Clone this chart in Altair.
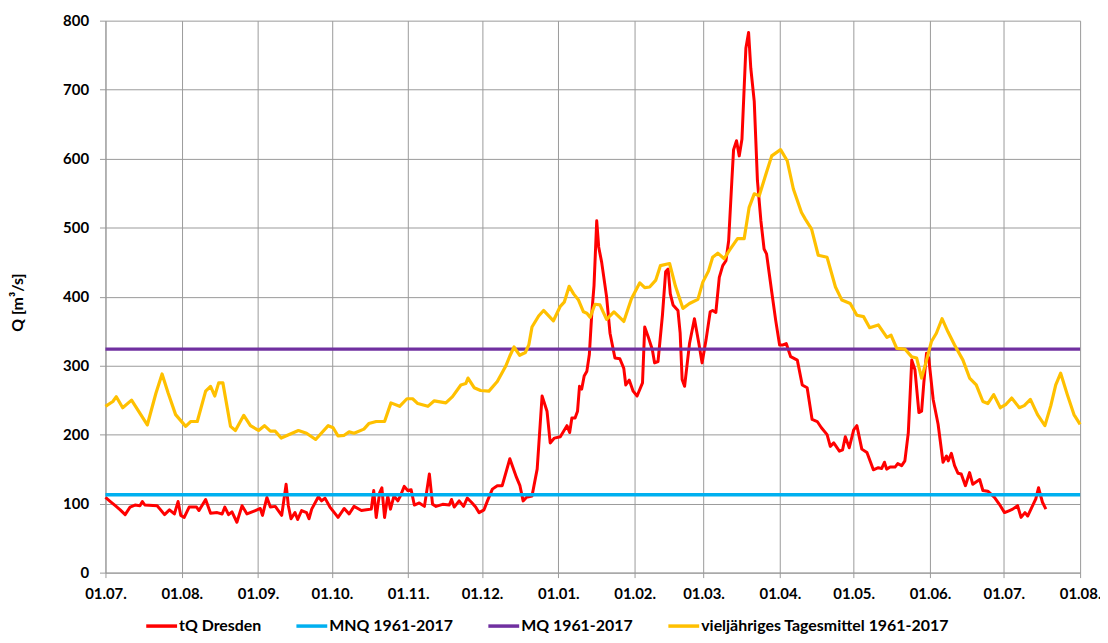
import json
import altair as alt
import pandas as pd

# x positions are days after 01.07. (start of the hydrological view)
MONTH_DAYS = [0, 31, 62, 92, 123, 153, 184, 215, 243, 274, 304, 335, 365, 396]
MONTH_LABELS = ["01.07.", "01.08.", "01.09.", "01.10.", "01.11.", "01.12.", "01.01.",
                "01.02.", "01.03.", "01.04.", "01.05.", "01.06.", "01.07.", "01.08."]
Y_TICKS = [0, 100, 200, 300, 400, 500, 600, 700, 800]

# tQ Dresden (daily discharge, m³/s)
red_day = [0, 2, 4, 6, 8, 10, 12, 14, 15, 16, 21, 24, 26, 28, 29.5, 30.6, 32, 34, 37, 38,
           40.7, 42.7, 45.4, 47.4, 48.5, 50, 51.4, 53.4, 55.5, 57.5, 60.9, 62.9, 63.8, 65.6, 67, 69,
           71.6, 73.4, 74.3, 75.4, 77, 78.1, 79.7, 81.7, 82.7, 83.8, 86.5, 87.8, 89.2, 91.2, 94.5,
           97, 99, 101, 104, 106, 108, 109, 110, 111.4, 112.3, 113.4, 114.7, 115.8, 117.2, 118.8,
           119.8, 121.4, 122.8, 124.2, 125.5, 127.5, 129.6, 131.6, 132.9, 134.3, 137, 139.7, 140.6,
           141.7, 143.7, 145.5, 147, 148.7, 150.4, 151.8, 153.8, 155.2, 157.2, 159.2, 161.2, 164.3,
           167, 168.4, 169.7, 171, 173.3, 175.4, 177.4, 179.4, 180.7, 182.4, 184.8, 187.5, 188.6,
           189.5, 190.8, 191.8, 192.6, 193.5, 194.5, 195.6, 196.6, 197.6, 198.5, 199.6, 200.4,
           201.6, 203.6, 205, 207, 209, 210.6, 211.4, 212.8, 214.4, 216, 218.2, 219.1, 220.5,
           222.2, 223.1, 224.5, 226.3, 227.6, 228.6, 229.5, 230.6, 232.6, 233.5, 234.3, 235.3,
           237.3, 239.3, 241.1, 242.4, 244, 245.7, 246.7, 248, 249.4, 250.8, 252.1, 253.2, 254.5,
           255.2, 256.4, 257.5, 258.6, 260.2, 261.3, 262.2, 263.6, 264.9, 266.3, 267.6, 268.6,
           270.7, 272.3, 273.9, 275.3, 276.6, 278.4, 281.1, 283.1, 285.1, 287.1, 289.2, 290.9,
           293.2, 294.5, 295.9, 298.2, 299.5, 300.6, 302.2, 304, 305.3, 307.3, 309.4, 312, 314,
           315.4, 316.5, 317.4, 318.8, 320.8, 321.9, 323.5, 324.8, 326.2, 327.6, 328.9, 330.5,
           331.6, 332.5, 333.6, 334.5, 336.3, 338.3, 340.3, 341.7, 342.4, 343.7, 345, 346.4,
           347.7, 349.4, 351.1, 352.4, 355.2, 356.5, 358.5, 361.2, 363.2, 365.3, 367.3, 368.6,
           370.6, 372, 373.6, 374.7, 376.7, 378, 379.1, 380.7, 382.1]
red_q = [109, 103, 97, 91, 84, 95, 98, 97, 103, 98, 97, 84, 91, 85, 103, 83, 80, 95, 95, 90,
         106, 86, 87, 85, 95, 84, 88, 73, 97, 85, 90, 93, 83, 109, 95, 96,
         83, 128, 97, 78, 87, 77, 90, 87, 78, 92, 110, 104, 108, 95, 80,
         93, 85, 96, 90, 91, 92, 119, 80, 116, 123, 80, 111, 92, 111, 104,
         111, 125, 119, 120, 98, 101, 96, 143, 99, 96, 99, 98, 106,
         95, 104, 96, 108, 102, 95, 87, 91, 104, 121, 126, 126, 165,
         138, 126, 104, 109, 111, 150, 256, 234, 188, 195, 197, 213, 203,
         224, 224, 234, 270, 266, 285, 292, 316, 376, 416, 510, 472,
         450, 400, 347, 311, 310, 296, 272, 279, 263, 256, 275, 356, 342,
         323, 304, 306, 373, 436, 440, 404, 388, 380, 347, 280, 270,
         332, 368, 332, 304, 337, 378, 380, 377, 428, 445, 452, 481, 568,
         613, 626, 604, 628, 760, 783, 731, 683, 568, 510, 469, 462,
         407, 366, 330, 330, 332, 313, 308, 272, 268, 222, 219, 210,
         200, 183, 188, 176, 178, 197, 181, 207, 213, 179, 174, 149, 152,
         151, 160, 150, 153, 153, 158, 155, 162, 203, 308, 294, 232,
         234, 275, 318, 311, 251, 215, 160, 169, 162, 173, 155, 144,
         143, 126, 145, 128, 135, 119, 118, 109, 99, 87, 90, 92,
         97, 80, 87, 82, 97, 107, 123, 102, 92]

# vieljähriges Tagesmittel 1961-2017
yel_day = [0, 3, 4.4, 7, 10.6, 17, 20.5, 23, 25.5, 28.5, 32.6, 34.6, 37.3, 40.7, 42.7, 44.4,
           46, 47.7, 50.8, 52.8, 56.2, 58.9, 62.2, 64.6, 67, 69, 71.4, 78.4, 81.7, 85.4, 90.5,
           92.5, 94.5, 97, 99, 101, 105, 107, 110, 113.4, 116, 119.5, 122.5, 124.8, 126.9, 131,
           133.6, 138.3, 141, 144.4, 146.4, 147.3, 149.8, 152.4, 155.8, 159.2, 162.6, 164.3,
           166, 168.3, 170.6, 172, 173.3, 176, 178, 182, 184.8, 186.4, 188.4, 190.2, 192.2,
           194.2, 195.6, 196.9, 198.9, 200.9, 203.6, 206.6, 210.6, 213.7, 217.1, 219.1, 221.1,
           223.6, 225.5, 229.2, 231.6, 234.6, 237.3, 240.7, 242.7, 245, 246.7, 248.8, 251.4,
           253.5, 256.8, 259.5, 261.5, 263.6, 265.6, 268.3, 270.7, 274.3, 277, 279.5, 282.8,
           284.4, 286.9, 289.6, 293.2, 296.6, 299.2, 302.6, 305.3, 308, 310.5, 314, 317.5,
           319.2, 321.5, 324.8, 327.5, 329.6, 331.6, 333.6, 335.6, 337.6, 339.9, 342.3, 345,
           348.4, 351.1, 353.8, 356.5, 358.5, 360.9, 363.6, 365.9, 368.2, 371.3, 373.3, 375.8,
           378.7, 381.7, 384.1, 386.1, 388.1, 390.8, 393.5, 396]
yel_q = [241, 248, 255, 239, 250, 214, 260, 288, 260, 229, 212, 219, 219, 263, 270, 256,
         275, 275, 212, 206, 228, 213, 206, 213, 205, 205, 195, 206, 202, 193, 213,
         210, 198, 199, 204, 202, 208, 216, 219, 219, 246, 241, 252, 252, 245, 241,
         249, 246, 255, 272, 274, 282, 268, 264, 263, 277, 299, 314,
         327, 315, 319, 330, 356, 372, 380, 365, 386, 392, 415, 404, 395,
         378, 376, 370, 389, 388, 367, 378, 364, 397, 420, 413, 414,
         424, 445, 448, 415, 383, 390, 396, 421, 437, 457, 463, 455,
         467, 484, 484, 529, 549, 546, 577, 604, 613, 597, 556, 522,
         512, 498, 460, 457, 414, 395, 390, 373, 371, 355, 359, 341,
         344, 325, 324, 313, 311, 282, 308, 335, 347, 368, 349, 330,
         308, 282, 272, 248, 245, 258, 239, 244, 253, 239, 242, 251,
         229, 213, 242, 272, 289, 258, 229, 215]

MNQ = 113
MQ = 324

SERIES = ["tQ Dresden", "MNQ 1961-2017", "MQ 1961-2017", "vieljähriges Tagesmittel 1961-2017"]
COLORS = ["#FF0000", "#00B0F0", "#7030A0", "#FFC000"]

df_red = pd.DataFrame({"day": red_day, "q": red_q, "series": SERIES[0]})
df_mnq = pd.DataFrame({"day": [MONTH_DAYS[0], MONTH_DAYS[-1]], "q": [MNQ, MNQ], "series": SERIES[1]})
df_mq = pd.DataFrame({"day": [MONTH_DAYS[0], MONTH_DAYS[-1]], "q": [MQ, MQ], "series": SERIES[2]})
df_yel = pd.DataFrame({"day": yel_day, "q": yel_q, "series": SERIES[3]})

FONT = "Lato"
GRID = "#9a9a9a"

label_expr = "{}[indexof({}, datum.value)]".format(
    json.dumps(MONTH_LABELS).replace('"', "'"), json.dumps(MONTH_DAYS))

x_enc = alt.X("day:Q",
              scale=alt.Scale(domain=[MONTH_DAYS[0], MONTH_DAYS[-1]], nice=False, zero=False),
              axis=alt.Axis(values=MONTH_DAYS, labelExpr=label_expr, title=None, grid=True,
                            gridColor=GRID, domainColor=GRID, tickColor=GRID, tickSize=5,
                            labelPadding=9, labelFont=FONT, labelFontSize=15,
                            labelFontWeight="bold", labelColor="#000000", labelFlush=False,
                            labelOverlap=False))
y_enc = alt.Y("q:Q",
              scale=alt.Scale(domain=[0, 800], nice=False),
              axis=alt.Axis(values=Y_TICKS, title="Q [m³/s]", grid=True, gridColor=GRID,
                            domainColor=GRID, tickColor=GRID, tickSize=6, labelPadding=11,
                            labelFont=FONT, labelFontSize=15, labelFontWeight="bold",
                            labelColor="#000000", titleFont=FONT, titleFontSize=16,
                            titleFontWeight="bold", titleColor="#000000", titleX=-88,
                            titleY=283, titleAngle=270, titleAlign="center",
                            titleBaseline="middle"))

legend = alt.Legend(orient="none", legendX=39, legendY=591, direction="horizontal", columns=4,
                    title=None, symbolType="stroke", symbolStrokeWidth=3.5, symbolSize=961,
                    labelFont=FONT, labelFontSize=16, labelFontWeight="bold",
                    labelColor="#000000", labelLimit=500, columnPadding=28, labelOffset=0,
                    padding=0)
color_enc = alt.Color("series:N", scale=alt.Scale(domain=SERIES, range=COLORS), legend=legend,
                      sort=SERIES)


def layer(df, width):
    return alt.Chart(df).mark_line(strokeWidth=width, strokeJoin="round").encode(
        x=x_enc, y=y_enc, color=color_enc)


chart = alt.layer(
    layer(df_red, 3),
    layer(df_mnq, 3.5),
    layer(df_mq, 3.2),
    layer(df_yel, 3.2),
).properties(
    width=980, height=555,
    padding={"left": 98, "top": 11, "right": 20, "bottom": 61},
    autosize=alt.AutoSizeParams(type="none"),
    background="#ffffff",
).configure_view(stroke=None)

chart.save("out.html", embed_options={"renderer": "svg", "actions": False})
